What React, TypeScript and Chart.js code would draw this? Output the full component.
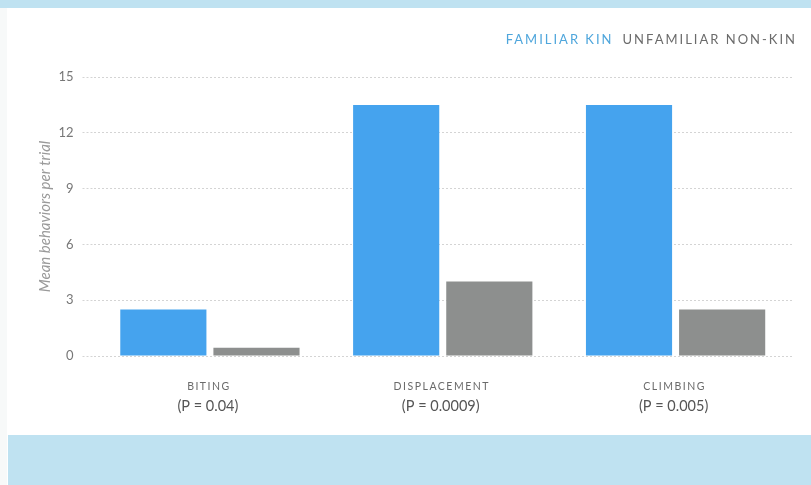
import React, { useEffect, useRef } from "react";
import { Chart, registerables } from "chart.js";

Chart.register(...registerables);

const categories = ["BITING", "DISPLACEMENT", "CLIMBING"];
const pValues = ["(P = 0.04)", "(P = 0.0009)", "(P = 0.005)"];
const familiarKin = [2.5, 13.5, 13.5];
const unfamiliarNonKin = [0.45, 4.0, 2.5];
const seriesNames = ["FAMILIAR KIN", "UNFAMILIAR NON-KIN"];
const yTicks = [0, 3, 6, 9, 12, 15];

const BLUE = "#45a3ee";
const GREY = "#8d8f8e";
const FONT = "Lato, 'Open Sans', sans-serif";

const overlayPlugin = {
  id: "overlay",
  afterDraw(chart: any) {
    const ctx = chart.ctx as CanvasRenderingContext2D;
    const x = chart.scales.x;
    ctx.save();
    ctx.textAlign = "center";
    ctx.textBaseline = "middle";
    categories.forEach((c, i) => {
      const px = x.getPixelForValue(i);
      ctx.fillStyle = "#6a6a6a";
      ctx.font = `10.5px ${FONT}`;
      (ctx as any).letterSpacing = "1.5px";
      ctx.fillText(c, px - 1, 387);
      (ctx as any).letterSpacing = "0px";
      ctx.font = `14.5px ${FONT}`;
      ctx.fillStyle = "#555";
      ctx.fillText(pValues[i], px - 2, 406);
    });
    // legend
    ctx.textAlign = "right";
    ctx.font = `13px ${FONT}`;
    (ctx as any).letterSpacing = "2px";
    ctx.fillStyle = "#6b6b6b";
    const right = 797;
    ctx.fillText(seriesNames[1], right, 40);
    const w2 = ctx.measureText(seriesNames[1]).width;
    ctx.fillStyle = "#4fa6dc";
    ctx.fillText(seriesNames[0], right - w2 - 9, 40);
    ctx.restore();
  },
};

export default function App() {
  const ref = useRef<HTMLCanvasElement>(null);
  useEffect(() => {
    document.body.style.margin = "0";
    const chart = new Chart(ref.current!, {
      type: "bar",
      data: {
        labels: categories,
        datasets: [
          { label: seriesNames[0], data: familiarKin, backgroundColor: BLUE },
          { label: seriesNames[1], data: unfamiliarNonKin, backgroundColor: GREY },
        ],
      },
      options: {
        animation: false,
        responsive: false,
        layout: { padding: { top: 77, right: 19, left: 0, bottom: 0 } },
        plugins: { legend: { display: false }, tooltip: { enabled: false } },
        datasets: { bar: { categoryPercentage: 0.8, barPercentage: 0.925 } },
        scales: {
          x: {
            grid: { display: false },
            border: { display: false },
            ticks: { display: false },
            afterFit: (s: any) => {
              s.height = 129;
            },
          },
          y: {
            min: 0,
            max: 15,
            afterBuildTicks: (s: any) => {
              s.ticks = yTicks.map((v) => ({ value: v }));
            },
            afterFit: (s: any) => {
              s.width = 93.5;
            },
            border: { display: false, dash: [2, 2] },
            grid: {
              color: "#d4d4d4",
              lineWidth: 1,
              tickBorderDash: [2, 2],
              tickColor: "#d4d4d4",
              tickLength: 11,
              drawTicks: true,
            },
            ticks: {
              padding: 9,
              color: "#777",
              font: { family: FONT, size: 13 },
            },
            title: {
              display: true,
              text: "Mean behaviors per trial",
              color: "#9a9a9a",
              font: { family: FONT, size: 15, style: "italic" },
              padding: { top: 36, bottom: 0 },
            },
          },
        },
      },
      plugins: [overlayPlugin],
    });
    return () => chart.destroy();
  }, []);

  return (
    <div style={{ position: "relative", width: 811, height: 485, background: "#fff", overflow: "hidden" }}>
      <div style={{ position: "absolute", left: 0, top: 0, width: 811, height: 8, background: "#bfe2f1" }} />
      <div style={{ position: "absolute", left: 0, top: 8, width: 7, height: 477, background: "#f7f9f9" }} />
      <div style={{ position: "absolute", left: 8, top: 435, width: 803, height: 50, background: "#bfe2f1" }} />
      <canvas ref={ref} width={811} height={485} style={{ position: "absolute", left: 0, top: 0 }} />
    </div>
  );
}
